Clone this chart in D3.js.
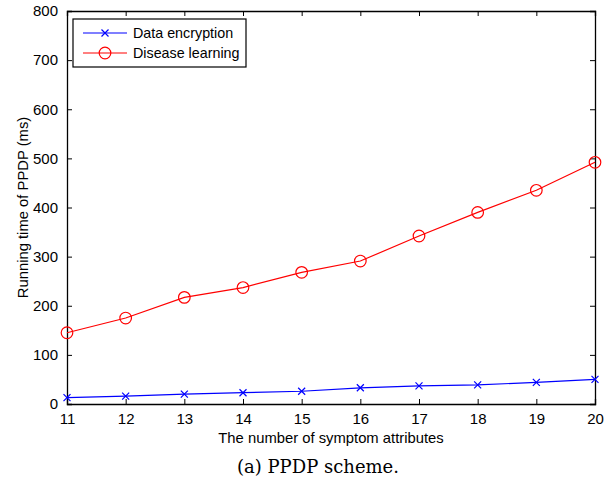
<!DOCTYPE html>
<html>
<head>
<meta charset="utf-8">
<script src="https://cdn.jsdelivr.net/npm/d3@7"></script>
<style>
  body { margin: 0; background: #fff; }
  svg { display: block; }
  text { font-family: "Liberation Sans", Arial, sans-serif; }
</style>
</head>
<body>
<div id="chart"></div>
<script>
'use strict';

// data
let attributes = [11, 12, 13, 14, 15, 16, 17, 18, 19, 20];
let encryptionTime = [13, 16, 20, 23, 26, 33, 37, 39, 44, 50];
let learningTime = [145, 175, 217, 237, 268, 291, 342, 390, 435, 492];
let yTicks = [0, 100, 200, 300, 400, 500, 600, 700, 800];
let seriesNames = ["Data encryption", "Disease learning"];

let width = 616, height = 483;
let margin = {top: 11, right: 21, bottom: 79, left: 67};
let w = width - margin.left - margin.right,
    h = height - margin.top - margin.bottom;

let svg = d3.select('#chart').append('svg')
    .attr('width', width)
    .attr('height', height);

let g = svg.append('g')
    .attr('transform', 'translate(' + margin.left + ',' + margin.top + ')');

let x = d3.scaleLinear().domain([11, 20]).range([0, w]);
let y = d3.scaleLinear().domain([0, 800]).range([h, 0]);

// axes, ticks pointing inward on all four sides
let xAxisBottom = g.append('g').attr('transform', 'translate(0,' + h + ')')
    .call(d3.axisBottom(x).tickValues(attributes).tickSize(-5).tickPadding(9).tickFormat(d3.format('d')));
let xAxisTop = g.append('g')
    .call(d3.axisTop(x).tickValues(attributes).tickSize(-5).tickFormat(''));
let yAxisLeft = g.append('g')
    .call(d3.axisLeft(y).tickValues(yTicks).tickSize(-5).tickPadding(9));
let yAxisRight = g.append('g').attr('transform', 'translate(' + w + ',0)')
    .call(d3.axisRight(y).tickValues(yTicks).tickSize(-5).tickFormat(''));

[xAxisBottom, xAxisTop, yAxisLeft, yAxisRight].forEach(a => {
    a.select('.domain').attr('stroke', '#000').attr('stroke-width', 1.3);
    a.selectAll('.tick line').attr('stroke', '#000');
    a.selectAll('.tick text').attr('font-size', 15).attr('fill', '#000')
        .style('font-family', '"Liberation Sans", Arial, sans-serif');
});

let line = d3.line()
    .x((d, i) => x(attributes[i]))
    .y(d => y(d));

// data encryption series
g.append('path')
    .datum(encryptionTime)
    .attr('fill', 'none')
    .attr('stroke', '#0000ff')
    .attr('stroke-width', 1.2)
    .attr('d', line);

function cross(sel, cx, cy, color) {
    let s = 3.5;
    sel.append('path')
        .attr('d', 'M' + (cx - s) + ',' + (cy - s) + 'L' + (cx + s) + ',' + (cy + s) +
                   'M' + (cx - s) + ',' + (cy + s) + 'L' + (cx + s) + ',' + (cy - s))
        .attr('stroke', color)
        .attr('stroke-width', 1.2);
}

encryptionTime.forEach((d, i) => cross(g, x(attributes[i]), y(d), '#0000ff'));

// disease learning series
g.append('path')
    .datum(learningTime)
    .attr('fill', 'none')
    .attr('stroke', '#ff0000')
    .attr('stroke-width', 1.2)
    .attr('d', line);

g.selectAll('.learnPt')
    .data(learningTime)
    .enter()
    .append('circle')
    .attr('class', 'learnPt')
    .attr('cx', (d, i) => x(attributes[i]))
    .attr('cy', d => y(d))
    .attr('r', 5.8)
    .attr('fill', 'none')
    .attr('stroke', '#ff0000')
    .attr('stroke-width', 1.2);

// legend
let legend = g.append('g').attr('transform', 'translate(6,8)');
legend.append('rect')
    .attr('width', 173).attr('height', 48)
    .attr('fill', '#fff').attr('stroke', '#000').attr('stroke-width', 1.2);

let colors = ['#0000ff', '#ff0000'];
seriesNames.forEach((name, i) => {
    let ly = 14 + i * 20;
    legend.append('line')
        .attr('x1', 10).attr('x2', 54).attr('y1', ly).attr('y2', ly)
        .attr('stroke', colors[i]).attr('stroke-width', 1.2);
    if (i === 0) cross(legend, 32, ly, colors[i]);
    else legend.append('circle').attr('cx', 32).attr('cy', ly).attr('r', 5.8)
        .attr('fill', 'none').attr('stroke', colors[i]).attr('stroke-width', 1.2);
    legend.append('text')
        .attr('x', 60).attr('y', ly).attr('dy', '0.35em')
        .attr('font-size', 14.3)
        .text(name);
});

// axis titles
svg.append('text')
    .attr('x', margin.left + w / 2).attr('y', 443)
    .attr('text-anchor', 'middle')
    .attr('font-size', 14.8)
    .text('The number of symptom attributes');

svg.append('text')
    .attr('transform', 'translate(28,' + (margin.top + h / 2) + ') rotate(-90)')
    .attr('text-anchor', 'middle')
    .attr('font-size', 14.8)
    .text('Running time of PPDP (ms)');

// caption
svg.append('text')
    .attr('x', 318).attr('y', 473)
    .attr('text-anchor', 'middle')
    .attr('font-size', 18)
    .style('font-family', '"DejaVu Serif", "Liberation Serif", serif')
    .text('(a) PPDP scheme.');
</script>
</body>
</html>
